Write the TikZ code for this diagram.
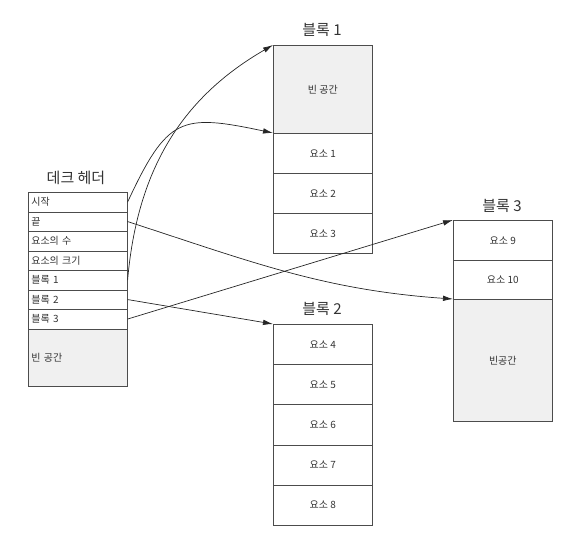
\documentclass[tikz,border=0pt]{standalone}
\usepackage{fontspec}
\setmainfont{Noto Sans CJK KR}
\usetikzlibrary{arrows.meta,positioning}
\tikzset{
  cell/.style={draw=black!70, line width=0.6pt, minimum width=99pt, minimum height=#1,
    anchor=north west, inner sep=0pt, text=black!80, font=\fontsize{10}{12}\selectfont},
  cell/.default=40pt,
  hcell/.style={cell=19.5pt, text width=93pt, inner xsep=3pt, align=left},
  freecell/.style={fill=black!6},
  title/.style={text=black!80, font=\fontsize{15}{18}\selectfont},
  link/.style={draw=black!85, line width=0.7pt, -{Latex[length=10pt,width=5.5pt]}}
}
\begin{document}
\begin{tikzpicture}[x=1pt,y=-1pt]
  \useasboundingbox (0,0) rectangle (580,536);
  % Deque header
  \node[title] (ttlh) at (76,178) {데크 헤더};
  \foreach \t [count=\i] in {시작, 끝, 요소의 수, 요소의 크기, 블록 1, 블록 2, 블록 3}
    \node[hcell] (h\i) at (28,{192+(\i-1)*19.5}) {\t};
  \node[hcell, freecell, minimum height=57.5pt] (hfree) at (28,328.5) {빈 공간};
  % Block 1
  \node[title] (ttl1) at (322,30) {블록 1};
  \node[cell=88pt, freecell] (b1free) at (273,45) {빈 공간};
  \node[cell] (b1e1) at (273,133) {요소 1};
  \node[cell] (b1e2) at (273,173) {요소 2};
  \node[cell] (b1e3) at (273,213) {요소 3};
  % Block 2
  \node[title] (ttl2) at (322,309) {블록 2};
  \foreach \n [count=\i] in {4,...,8}
    \node[cell=40.2pt] (b2e\n) at (273,{324+(\i-1)*40.2}) {요소 \n};
  % Block 3
  \node[title] (ttl3) at (502,206) {블록 3};
  \node[cell] (b3e9) at (453,220) {요소 9};
  \node[cell=39pt] (b3e10) at (453,260) {요소 10};
  \node[cell=122pt, freecell] (b3free) at (453,299) {빈공간};
  % Pointers
  \draw[link] (h1.east) to[out=65,in=168,looseness=1.5] (b1e1.north west);
  \draw[link] (h5.east) to[out=85,in=210] (b1free.north west);
  \draw[link] (h2.east) to[out=-18,in=176] (b3free.north west);
  \draw[link] (h6.east) -- (b2e4.north west);
  \draw[link] (h7.east) -- (b3e9.north west);
\end{tikzpicture}
\end{document}
